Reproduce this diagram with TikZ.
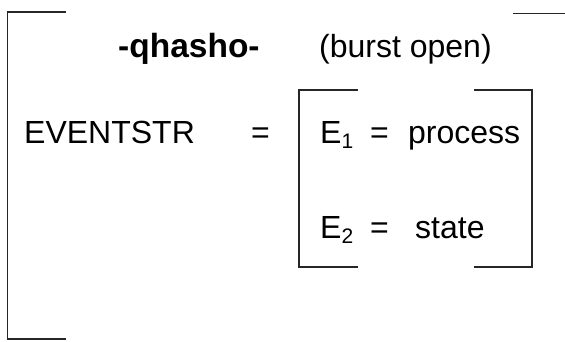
\documentclass[tikz,border=0pt]{standalone}
\usepackage{fontspec}
\setmainfont{Liberation Sans}
\newcommand{\mysub}[1]{\raisebox{-5pt}{\fontsize{21}{21}\selectfont #1}}
\begin{document}
\begin{tikzpicture}[x=1pt,y=-1pt,
  txt/.style={anchor=base west,inner sep=0pt,font=\fontsize{32}{38}\selectfont},
  brk/.style={line width=1.4pt,line cap=butt,line join=miter,black!85}]
\useasboundingbox[fill=white] (0,0) rectangle (565,341);
% outer bracket
\draw[brk] (66,12) -- (7.5,12) -- (7.5,339) -- (66,339);
\draw[brk] (513,13.5) -- (565,13.5);
% inner bracket
\draw[brk] (358,90) -- (299,90) -- (299,267) -- (358,267);
\draw[brk] (474,90) -- (532,90) -- (532,267) -- (474,267);
% texts
\node[txt,font=\fontsize{33.5}{38}\selectfont\bfseries] (title) at (118,57) {-qhasho-};
\node[txt] (gloss) at (319,57) {(burst open)};
\node[txt] (ev) at (24,143) {EVENTSTR};
\node[txt] (eq) at (251,143) {=};
\node[txt] (e1) at (320,143) {E\mysub{1}};
\node[txt] (eq1) at (370,143) {=};
\node[txt] (proc) at (408,143) {process};
\node[txt] (e2) at (320,238) {E\mysub{2}};
\node[txt] (eq2) at (370,238) {=};
\node[txt] (state) at (415,238) {state};
\end{tikzpicture}
\end{document}
